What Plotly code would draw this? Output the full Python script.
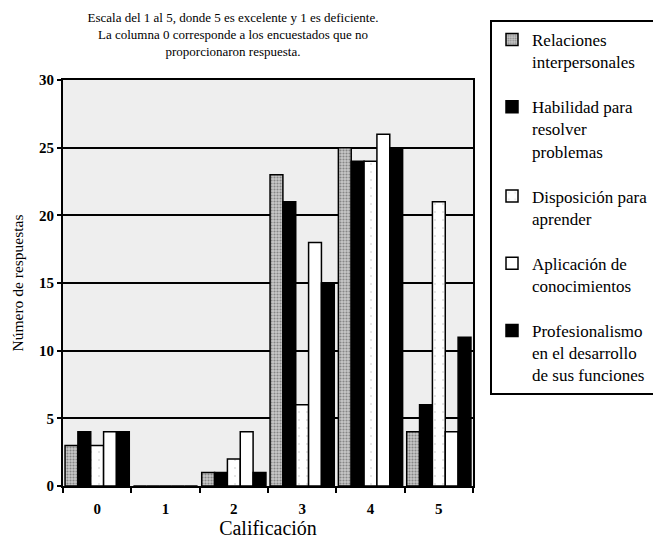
import plotly.graph_objects as go

categories = ["0", "1", "2", "3", "4", "5"]
relaciones = [3, 0, 1, 23, 25, 4]
habilidad = [4, 0, 1, 21, 24, 6]
disposicion = [3, 0, 2, 6, 24, 21]
aplicacion = [4, 0, 4, 18, 26, 4]
profesionalismo = [4, 0, 1, 15, 25, 11]

names = [
    "Relaciones<br>interpersonales",
    "Habilidad para<br>resolver<br>problemas",
    "Disposición para<br>aprender",
    "Aplicación de<br>conocimientos",
    "Profesionalismo<br>en el desarrollo<br>de sus funciones",
]
series = [relaciones, habilidad, disposicion, aplicacion, profesionalismo]
styles = [
    dict(color="#b0b0b0", pattern=dict(shape=".", fgcolor="#444", bgcolor="#c8c8c8", size=3, solidity=0.4)),
    dict(color="black"),
    dict(color="white", pattern=dict(shape=".", fgcolor="#bbb", bgcolor="white", size=8, solidity=0.05)),
    dict(color="white"),
    dict(color="black"),
]

serif = "Liberation Serif"
fig = go.Figure()
for i, (nm, vals, st) in enumerate(zip(names, series, styles)):
    fig.add_trace(go.Bar(
        x=categories, y=vals, name=nm, legendgroup=str(i),
        marker=dict(line=dict(color="black", width=1.5), **st),
    ))

fig.update_layout(
    width=653, height=539,
    margin=dict(l=63, r=180, t=80, b=53, autoexpand=False),
    paper_bgcolor="white",
    plot_bgcolor="#eeeeee",
    barmode="group", bargap=0.06, bargroupgap=0,
    font=dict(family=serif, color="black"),
    title=dict(
        text="Escala del 1 al 5, donde 5 es excelente y 1 es deficiente.<br>La columna 0 corresponde a los encuestados que no<br>proporcionaron respuesta.",
        x=233 / 653, xanchor="center", xref="container",
        y=1 - 22 / 539, yanchor="middle", yref="container",
        font=dict(family=serif, size=13, color="black"),
    ),
    legend=dict(
        x=(490 - 63) / 410, xanchor="left", y=1 + 60 / 406, yanchor="top",
        bordercolor="black", borderwidth=2, bgcolor="white",
        font=dict(family=serif, size=17, color="black"),
        tracegroupgap=20, valign="top", itemwidth=30,
        maxheight=480,
    ),
    xaxis=dict(
        type="category", range=[-0.5, 5.5], automargin=False,
        showline=True, linecolor="black", linewidth=2, mirror=True,
        ticks="outside", tickson="boundaries", ticklen=5, tickwidth=2, tickcolor="black",
        tickfont=dict(family=serif, size=15, color="black", weight="bold"),
        ticklabelstandoff=8,
        showgrid=False,
        title=dict(text="Calificación", font=dict(family=serif, size=20), standoff=0),
    ),
    yaxis=dict(
        range=[0, 30], dtick=5, automargin=False,
        showline=True, linecolor="black", linewidth=2, mirror=True,
        ticks="outside", ticklen=4, tickwidth=2, tickcolor="black",
        tickfont=dict(family=serif, size=15, color="black", weight="bold"),
        showgrid=True, gridcolor="black", gridwidth=2,
        zeroline=False,
        title=dict(text="Número de respuestas", font=dict(family=serif, size=15.5), standoff=12),
    ),
)

fig.write_html("out.html")
